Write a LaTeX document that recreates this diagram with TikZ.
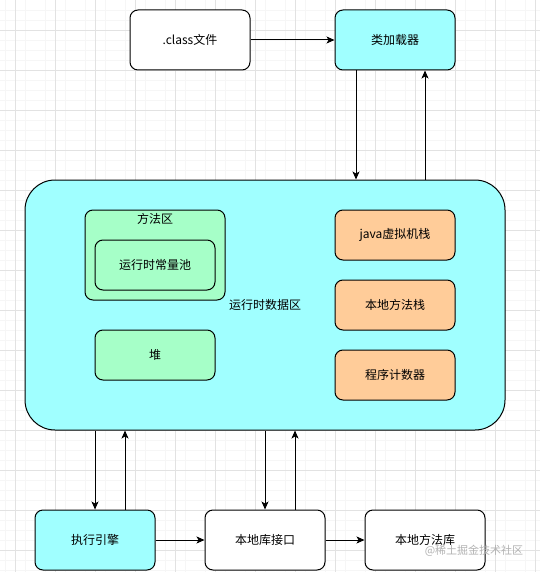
\documentclass[tikz,border=0pt]{standalone}
\usepackage{fontspec}
\setmainfont{Noto Sans CJK SC}
\usepackage{xcolor}
\definecolor{jvcyan}{HTML}{A0FFFF}
\definecolor{jvgreen}{HTML}{A6FFC8}
\definecolor{jvorange}{HTML}{FFCC99}
\definecolor{jvgrid}{RGB}{226,226,226}
\usetikzlibrary{arrows.meta,positioning,calc}

\tikzset{
  box/.style={draw,line width=1pt,rounded corners=8pt,inner sep=0pt,
              minimum width=120pt,minimum height=60pt,fill=white},
  smallbox/.style={box,minimum height=50pt},
  arr/.style={-{Stealth[length=8pt,width=7pt,inset=2pt]},line width=1pt}
}

\begin{document}
\begin{tikzpicture}[x=1pt,y=-1pt,every node/.style={font=\fontsize{12}{14}\selectfont}]
  \useasboundingbox (0,0) rectangle (540,572);
  %% background grid
  \fill[white] (0,0) rectangle (540,572);
  \foreach \gx in {5,25,...,535} \draw[jvgrid!30,line width=0.4pt] (\gx,0) -- (\gx,572);
  \foreach \gy in {10,20,...,570} \draw[jvgrid!30,line width=0.4pt] (0,\gy) -- (540,\gy);
  \foreach \gx in {15,55,...,535} \draw[jvgrid,line width=0.6pt] (\gx,0) -- (\gx,572);
  \foreach \gy in {30,70,...,550} \draw[jvgrid,line width=0.6pt] (0,\gy) -- (540,\gy);

  %% top row
  \node[box] (cls) at (190,40) {.class文件};
  \node[box,fill=jvcyan] (loader) at (395,40) {类加载器};

  %% runtime data area
  \node[box,fill=jvcyan,rounded corners=30pt,minimum width=480pt,minimum height=250pt]
        (rtda) at (265,305) {运行时数据区};
  \node[box,fill=jvgreen,minimum width=140pt,minimum height=90pt,
        label={[anchor=north,inner sep=0pt,yshift=-4pt]north:方法区}]
        (method) at (155,255) {};
  \node[smallbox,fill=jvgreen] (pool) at (155,265) {运行时常量池};
  \node[smallbox,fill=jvgreen] (heap) at (155,355) {堆};
  \node[smallbox,fill=jvorange] (jvms) at (395,235) {java虚拟机栈};
  \node[smallbox,fill=jvorange] (nms) at (395,305) {本地方法栈};
  \node[smallbox,fill=jvorange] (pc) at (395,375) {程序计数器};

  %% bottom row
  \node[box,fill=jvcyan] (engine) at (95,540) {执行引擎};
  \node[box] (nif) at (265,540) {本地库接口};
  \node[box] (nlib) at (425,540) {本地方法库};

  %% connectors
  \draw[arr] (cls) -- (loader);
  \draw[arr] ([xshift=-39pt]loader.south) -- ([xshift=-39pt]loader.south |- rtda.north);
  \draw[arr] ([xshift=30pt]loader.south |- rtda.north) -- ([xshift=30pt]loader.south);
  \draw[arr] (engine.north |- rtda.south) -- (engine.north);
  \draw[arr] ([xshift=30pt]engine.north) -- ([xshift=30pt]engine.north |- rtda.south);
  \draw[arr] (nif.north |- rtda.south) -- (nif.north);
  \draw[arr] ([xshift=30pt]nif.north) -- ([xshift=30pt]nif.north |- rtda.south);
  \draw[arr] (engine) -- (nif);
  \draw[arr] (nif) -- (nlib);

  %% watermark
  \node[text=black!30,font=\fontsize{11}{12}\selectfont] (mark) at (474,551) {@稀土掘金技术社区};
\end{tikzpicture}
\end{document}
